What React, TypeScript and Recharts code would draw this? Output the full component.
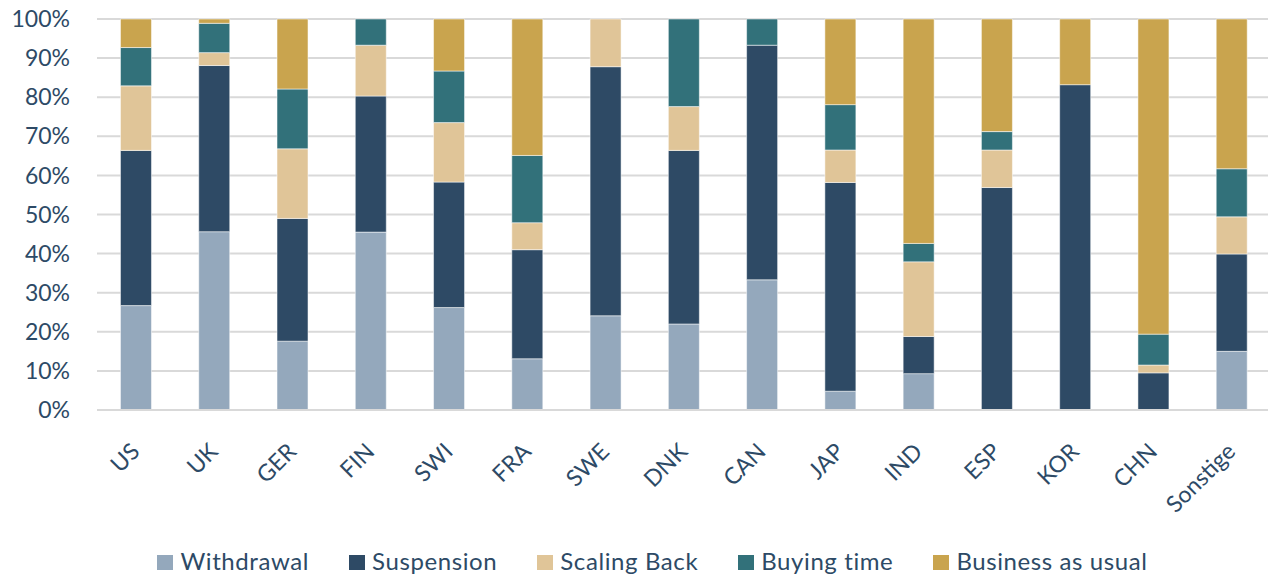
import { BarChart, Bar, XAxis, YAxis, CartesianGrid, Legend } from 'recharts';

const countries = ['US', 'UK', 'GER', 'FIN', 'SWI', 'FRA', 'SWE', 'DNK', 'CAN', 'JAP', 'IND', 'ESP', 'KOR', 'CHN', 'Sonstige'];
const withdrawal = [26.7, 45.6, 17.6, 45.5, 26.2, 13.1, 24.1, 22.0, 33.3, 4.8, 9.3, 0, 0, 0, 15.0];
const suspension = [39.7, 42.5, 31.4, 34.8, 32.1, 27.9, 63.7, 44.4, 60.0, 53.4, 9.5, 56.9, 83.2, 9.5, 24.9];
const scalingBack = [16.5, 3.3, 17.8, 13.0, 15.2, 6.9, 12.2, 11.2, 0, 8.3, 19.1, 9.6, 0, 2.0, 9.5];
const buyingTime = [9.8, 7.5, 15.3, 6.7, 13.2, 17.2, 0, 22.4, 6.7, 11.6, 4.7, 4.7, 0, 7.9, 12.3];
const businessAsUsual = [7.3, 1.1, 17.9, 0, 13.3, 34.9, 0, 0, 0, 21.9, 57.4, 28.8, 16.8, 80.6, 38.3];
const yTicks = [0, 10, 20, 30, 40, 50, 60, 70, 80, 90, 100];

const series = [
  { key: 'withdrawal', name: 'Withdrawal', color: '#94a8bc' },
  { key: 'suspension', name: 'Suspension', color: '#2e4a65' },
  { key: 'scalingBack', name: 'Scaling Back', color: '#e0c598' },
  { key: 'buyingTime', name: 'Buying time', color: '#32717a' },
  { key: 'businessAsUsual', name: 'Business as usual', color: '#c9a44e' },
];

const data = countries.map((c, i) => ({
  country: c,
  withdrawal: withdrawal[i],
  suspension: suspension[i],
  scalingBack: scalingBack[i],
  buyingTime: buyingTime[i],
  businessAsUsual: businessAsUsual[i],
}));

const textColor = '#2d4a66';
const font = 'Lato, "Open Sans", sans-serif';

function CountryTick(props: any) {
  const { x, y, payload } = props;
  const ax = x + 5;
  const ay = y + 43;
  return (
    <text x={ax} y={ay} textAnchor="end" fill={textColor} fontSize={23} fontFamily={font}
      transform={`rotate(-45, ${ax}, ${ay})`}>
      {payload.value}
    </text>
  );
}

function LegendRow() {
  return (
    <div style={{ display: 'flex', justifyContent: 'center', gap: 40, paddingLeft: 37, fontFamily: font, fontSize: 24, letterSpacing: 0.6, lineHeight: '22px', color: textColor }}>
      {series.map((s) => (
        <div key={s.key} style={{ display: 'flex', alignItems: 'center' }}>
          <span style={{ display: 'inline-block', width: 16, height: 15, background: s.color, marginRight: 7, marginTop: 3 }} />
          <span>{s.name}</span>
        </div>
      ))}
    </div>
  );
}

export default function App() {
  return (
    <div style={{ position: 'absolute', left: 0, top: 0, width: 1268, height: 576, overflow: 'hidden', background: '#fff' }}>
      <BarChart width={1271} height={576} data={data} barCategoryGap="30%"
        margin={{ top: 19, right: 0, left: 0, bottom: 46 }}>
        <CartesianGrid vertical={false} stroke="#d9d9d9" strokeWidth={2} />
        <XAxis dataKey="country" height={120} interval={0} tickLine={false} axisLine={{ stroke: '#d9d9d9', strokeWidth: 2 }}
          tickSize={0} tickMargin={0} tick={<CountryTick />} />
        <YAxis width={97} domain={[0, 100]} ticks={yTicks} tickFormatter={(v: number) => `${v}%`}
          axisLine={false} tickLine={false} tickSize={0} tickMargin={27}
          tick={{ fill: textColor, fontSize: 23, fontFamily: font }} />
        <Legend verticalAlign="middle" align="center" layout="horizontal"
          wrapperStyle={{ top: 550, left: 0, width: 1268 }} content={<LegendRow />} />
        {series.map((s) => (
          <Bar key={s.key} dataKey={s.key} name={s.name} stackId="a" fill={s.color}
            stroke="#ffffff" strokeOpacity={0.5} strokeWidth={1} isAnimationActive={false} />
        ))}
      </BarChart>
    </div>
  );
}
